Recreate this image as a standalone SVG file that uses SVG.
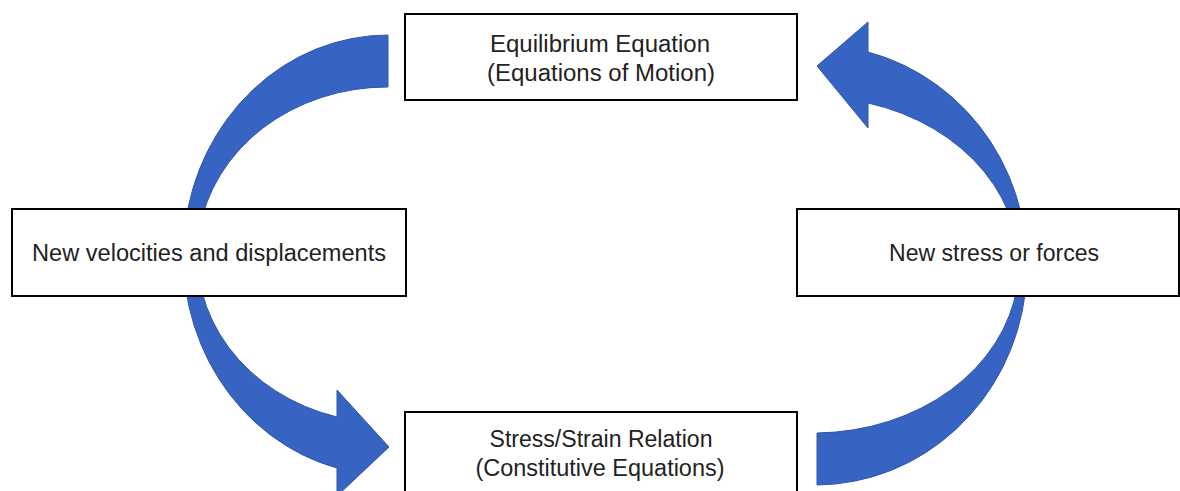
<svg xmlns="http://www.w3.org/2000/svg" width="1180" height="491" viewBox="0 0 1180 491">
  <style>
    .box { fill: #ffffff; stroke: #000000; stroke-width: 2; }
    .lbl { font-family: "Liberation Sans", Arial, sans-serif; font-size: 23px; fill: #222222; text-anchor: middle; }
    .arrow { fill: #3763c3; stroke: #2f56a8; stroke-width: 1; stroke-linejoin: miter; }
  </style>
  <rect width="1180" height="491" fill="#ffffff"/>
  <g id="connectors">
    <path id="arrow-left" class="arrow" d="M 388,35 A 205 220 0 0 0 337,468 L 337,496 L 389,447 L 337,390 L 337,417 A 190 168 0 0 1 388,87 Z"/>
    <path id="arrow-right" class="arrow" d="M 817,485 A 212 220 0 0 0 868,52 L 868,22 L 817,66 L 868,128 L 868,103 A 205 168 0 0 1 817,433 Z"/>
  </g>
  <g id="node-equilibrium">
    <rect class="box" x="405" y="14" width="392" height="86"/>
    <text class="lbl" x="600" y="52" textLength="220" lengthAdjust="spacingAndGlyphs">Equilibrium Equation</text>
    <text class="lbl" x="601" y="81" textLength="228" lengthAdjust="spacingAndGlyphs">(Equations of Motion)</text>
  </g>
  <g id="node-velocities">
    <rect class="box" x="12" y="209" width="394" height="87"/>
    <text class="lbl" x="209" y="261" textLength="354" lengthAdjust="spacingAndGlyphs">New velocities and displacements</text>
  </g>
  <g id="node-stress">
    <rect class="box" x="797" y="209" width="382" height="87"/>
    <text class="lbl" x="994" y="261" textLength="210" lengthAdjust="spacingAndGlyphs">New stress or forces</text>
  </g>
  <g id="node-constitutive">
    <rect class="box" x="405" y="412" width="392" height="92"/>
    <text class="lbl" x="601" y="447" textLength="223" lengthAdjust="spacingAndGlyphs">Stress/Strain Relation</text>
    <text class="lbl" x="600" y="476" textLength="249" lengthAdjust="spacingAndGlyphs">(Constitutive Equations)</text>
  </g>
</svg>
